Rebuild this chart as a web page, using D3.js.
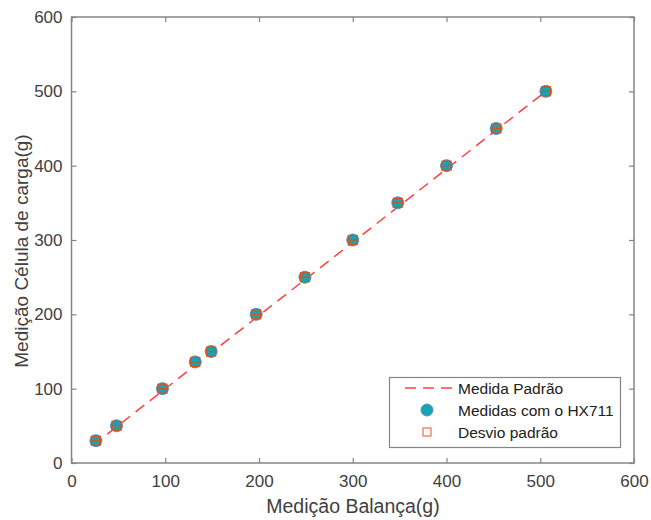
<!DOCTYPE html>
<html><head><meta charset="utf-8">
<script src="https://cdn.jsdelivr.net/npm/d3@7"></script>
<style>body{margin:0;background:#fff}svg{display:block}text{font-family:"Liberation Sans",Arial,sans-serif}</style>
</head><body><svg id="c" width="651" height="520"></svg>
<script>
const balanca = [26, 48, 97, 132, 149, 197, 249, 300, 348, 400, 453, 506];
const hx711   = [30, 50, 100, 136, 150, 200, 250, 300, 350, 400, 450, 500];
const padraoX = [23, 506];
const padraoY = [24, 500];
const xTicks = [0, 100, 200, 300, 400, 500, 600];
const yTicks = [0, 100, 200, 300, 400, 500, 600];
const legendLabels = ["Medida Padrão", "Medidas com o HX711", "Desvio padrão"];

const svg = d3.select("#c");
const L = 71.5, R = 634, T = 17, B = 463;
const x = d3.scaleLinear().domain([0, 600]).range([L, R]);
const y = d3.scaleLinear().domain([0, 600]).range([B, T]);
const axCol = "#858585", txtCol = "#404040";

function styleAxis(g){
  g.select(".domain").remove();
  g.selectAll(".tick line").attr("stroke", axCol).attr("stroke-width", 1.2);
  g.selectAll(".tick text").attr("fill", txtCol).style("font-size", "17px");
}
svg.append("g").attr("transform", `translate(0,${B})`)
  .call(d3.axisBottom(x).tickValues(xTicks).tickSizeInner(-5).tickSizeOuter(0).tickPadding(12))
  .call(styleAxis);
svg.append("g").attr("transform", `translate(0,${T})`)
  .call(d3.axisTop(x).tickValues(xTicks).tickSizeInner(-5).tickSizeOuter(0).tickFormat(""))
  .call(styleAxis);
svg.append("g").attr("transform", `translate(${L},0)`)
  .call(d3.axisLeft(y).tickValues(yTicks).tickSizeInner(-5).tickSizeOuter(0).tickPadding(9))
  .call(styleAxis);
svg.append("g").attr("transform", `translate(${R},0)`)
  .call(d3.axisRight(y).tickValues(yTicks).tickSizeInner(-5).tickSizeOuter(0).tickFormat(""))
  .call(styleAxis);
svg.append("rect").attr("x", L).attr("y", T).attr("width", R - L).attr("height", B - T)
  .attr("fill", "none").attr("stroke", axCol).attr("stroke-width", 1.5);

// dashed line
const lineData = padraoX.map((v, i) => [v, padraoY[i]]);
svg.append("path").datum(lineData)
  .attr("d", d3.line().x(d => x(d[0])).y(d => y(d[1])))
  .attr("fill", "none").attr("stroke", "#ff4040").attr("stroke-width", 1.5)
  .attr("stroke-dasharray", "11,7");

const pts = balanca.map((v, i) => [v, hx711[i]]);
function drawMarkers(g, cx, cy){
  g.append("circle").attr("cx", cx).attr("cy", cy).attr("r", 6)
    .attr("fill", "#17a2b5").attr("stroke", "#5b8fc4").attr("stroke-width", 1);
}
function drawSquare(g, cx, cy){
  g.append("rect").attr("x", cx - 4.5).attr("y", cy - 4.5).attr("width", 9).attr("height", 9)
    .attr("fill", "none").attr("stroke", "#d95319").attr("stroke-width", 1.2);
}
const mg = svg.append("g");
pts.forEach(d => {
  drawMarkers(mg, x(d[0]), y(d[1]));
  drawSquare(mg, x(d[0]), y(d[1]));
  mg.append("line").attr("x1", x(d[0]) - 4.5).attr("x2", x(d[0]) + 4.5)
    .attr("y1", y(d[1])).attr("y2", y(d[1])).attr("stroke", "#d95319").attr("stroke-width", 1.2);
});

// axis titles
svg.append("text").attr("x", 353).attr("y", 513).attr("text-anchor", "middle")
  .attr("fill", txtCol).style("font-size", "19.5px").text("Medição Balança(g)");
svg.append("text").attr("transform", `translate(28,${251}) rotate(-90)`).attr("text-anchor", "middle")
  .attr("fill", txtCol).style("font-size", "19px").text("Medição Célula de carga(g)");

// legend
const lg = svg.append("g");
lg.append("rect").attr("x", 389.5).attr("y", 377.5).attr("width", 231).attr("height", 70)
  .attr("fill", "#fff").attr("stroke", "#858585").attr("stroke-width", 1.2);
const rowsY = [388, 410, 432];
lg.append("line").attr("x1", 405).attr("x2", 452).attr("y1", rowsY[0]).attr("y2", rowsY[0])
  .attr("stroke", "#ff4040").attr("stroke-width", 1.5).attr("stroke-dasharray", "11,7");
drawMarkers(lg, 427, rowsY[1]);
lg.append("rect").attr("x", 423).attr("y", rowsY[2] - 4).attr("width", 8).attr("height", 8)
  .attr("fill", "none").attr("stroke", "#e8743f").attr("stroke-width", 1.2);
legendLabels.forEach((t, i) => {
  lg.append("text").attr("x", 458).attr("y", rowsY[i]).attr("dy", "0.36em")
    .attr("fill", "#202020").style("font-size", "15.5px").text(t);
});
</script></body></html>
